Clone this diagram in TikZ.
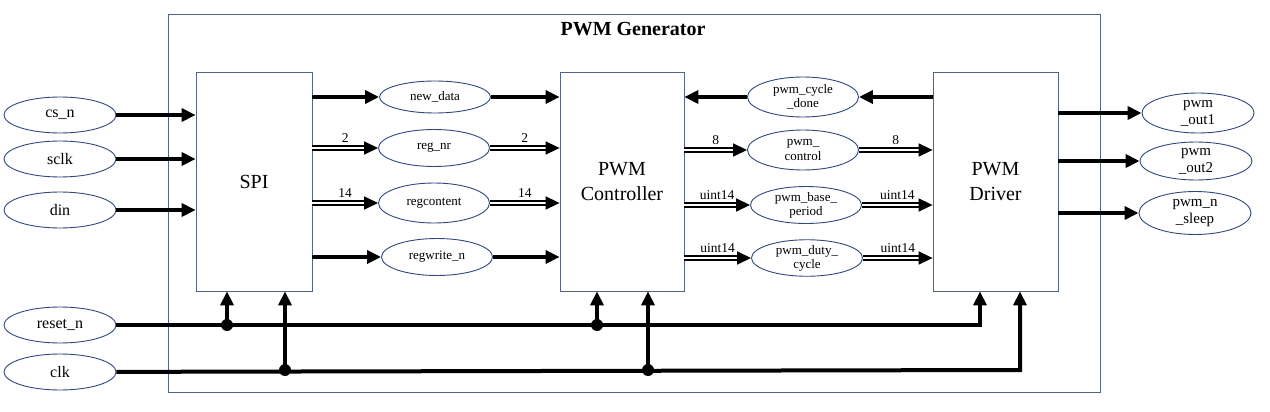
\documentclass[tikz,border=0pt]{standalone}
\usepackage{fontspec}
\setmainfont{Liberation Serif}
\usetikzlibrary{shapes.geometric,arrows.meta}
\definecolor{edgeblue}{RGB}{47,72,128}
\definecolor{boxblue}{RGB}{80,100,140}

\begin{document}
\begin{tikzpicture}[x=1pt,y=-1pt,
  blk/.style={draw=boxblue,line width=0.8pt,align=center,inner sep=0pt,
    font=\fontsize{20}{25}\selectfont},
  port/.style={draw=edgeblue,ellipse,line width=0.9pt,inner sep=0pt,
    minimum width=112pt,minimum height=36pt,align=center,
    font=\fontsize{16}{18}\selectfont},
  mid/.style={port,minimum width=111pt,minimum height=37pt,
    font=\fontsize{13}{14}\selectfont},
  outp/.style={port,minimum width=112pt,minimum height=40pt,
    font=\fontsize{15}{17}\selectfont},
  sig/.style={line width=4pt,-{Triangle[length=14pt,width=13pt]}},
  bus/.style={line width=1.6pt,double,double distance=2.5pt,
    -{Triangle[length=14pt,width=13pt]}},
  wdt/.style={font=\fontsize{13.5}{14}\selectfont,midway,above=5pt,inner sep=0pt}]
  \useasboundingbox (0,0) rectangle (1270,412);
  % outer frame
  \draw[boxblue,line width=0.8pt] (168,14) rectangle (1100,392);
  \node[font=\bfseries\fontsize{20}{22}\selectfont] (title) at (633,29) {PWM Generator};
  % blocks
  \node[blk,minimum width=116pt,minimum height=219pt] (spi) at (254,181.5) {SPI};
  \node[blk,minimum width=124pt,minimum height=219pt] (ctrl) at (622,181.5) {PWM\\Controller};
  \node[blk,minimum width=125pt,minimum height=219pt] (drv) at (995.5,181.5) {PWM\\Driver};
  % inputs
  \node[port] (csn) at (60,115) {cs\_n};
  \node[port] (sclk) at (60,159) {sclk};
  \node[port] (din) at (60,210) {din};
  \node[port] (reset) at (60,325) {reset\_n};
  \node[port] (clk) at (60,372) {clk};
  \draw[sig] (csn) -- (csn -| spi.west);
  \draw[sig] (sclk) -- (sclk -| spi.west);
  \draw[sig] (din) -- (din -| spi.west);
  % SPI -> controller
  \node[mid,minimum height=32pt] (newdata) at (435,97) {new\_data};
  \node[mid] (regnr) at (434,148) {reg\_nr};
  \node[mid,minimum height=40pt] (regcont) at (434,203) {regcontent};
  \node[mid] (regwr) at (437,257) {regwrite\_n};
  \draw[sig] (spi.east |- newdata) -- (newdata);
  \draw[sig] (newdata) -- (ctrl.west |- newdata);
  \draw[bus] (spi.east |- regnr) -- (regnr) node[wdt] {2};
  \draw[bus] (regnr) -- (ctrl.west |- regnr) node[wdt] {2};
  \draw[bus] (spi.east |- regcont) -- (regcont) node[wdt] {14};
  \draw[bus] (regcont) -- (ctrl.west |- regcont) node[wdt] {14};
  \draw[sig] (spi.east |- regwr) -- (regwr);
  \draw[sig] (regwr) -- (ctrl.west |- regwr);
  % controller <-> driver
  \node[mid,minimum height=40pt] (cycdone) at (803,97) {pwm\_cycle\\\_done};
  \node[mid,minimum height=40pt] (pctrl) at (803,150) {pwm\_\\control};
  \node[mid] (pbase) at (806,205) {pwm\_base\_\\period};
  \node[mid,minimum height=35pt] (pduty) at (807,258) {pwm\_duty\_\\cycle};
  \draw[sig] (drv.west |- cycdone) -- (cycdone);
  \draw[sig] (cycdone) -- (ctrl.east |- cycdone);
  \draw[bus] (ctrl.east |- pctrl) -- (pctrl) node[wdt] {8};
  \draw[bus] (pctrl) -- (drv.west |- pctrl) node[wdt] {8};
  \draw[bus] (ctrl.east |- pbase) -- (pbase) node[wdt] {uint14};
  \draw[bus] (pbase) -- (drv.west |- pbase) node[wdt] {uint14};
  \draw[bus] (ctrl.east |- pduty) -- (pduty) node[wdt] {uint14};
  \draw[bus] (pduty) -- (drv.west |- pduty) node[wdt] {uint14};
  % outputs
  \node[outp] (out1) at (1198,113) {pwm\\\_out1};
  \node[outp,minimum height=38pt] (out2) at (1196,161) {pwm\\\_out2};
  \node[outp,minimum height=43pt] (sleep) at (1195,213) {pwm\_n\\\_sleep};
  \draw[sig] (drv.east |- out1) -- (out1);
  \draw[sig] (drv.east |- out2) -- (out2);
  \draw[sig] (drv.east |- sleep) -- (sleep);
  % reset and clock
  \coordinate (rA) at (227,325);
  \coordinate (rB) at (597,325);
  \coordinate (rC) at (980,325);
  \coordinate (cA) at (285,370);
  \coordinate (cB) at (648,370);
  \coordinate (cC) at (1020,370);
  \draw[sig] (reset) -- (rC) -- (drv.south -| rC);
  \draw[sig] (clk) -- (cC) -- (drv.south -| cC);
  \draw[sig] (rA) -- (spi.south -| rA);
  \draw[sig] (cA) -- (spi.south -| cA);
  \draw[sig] (rB) -- (ctrl.south -| rB);
  \draw[sig] (cB) -- (ctrl.south -| cB);
  \foreach \p in {rA,rB,cA,cB}
    \fill (\p) circle (6pt);
\end{tikzpicture}
\end{document}
